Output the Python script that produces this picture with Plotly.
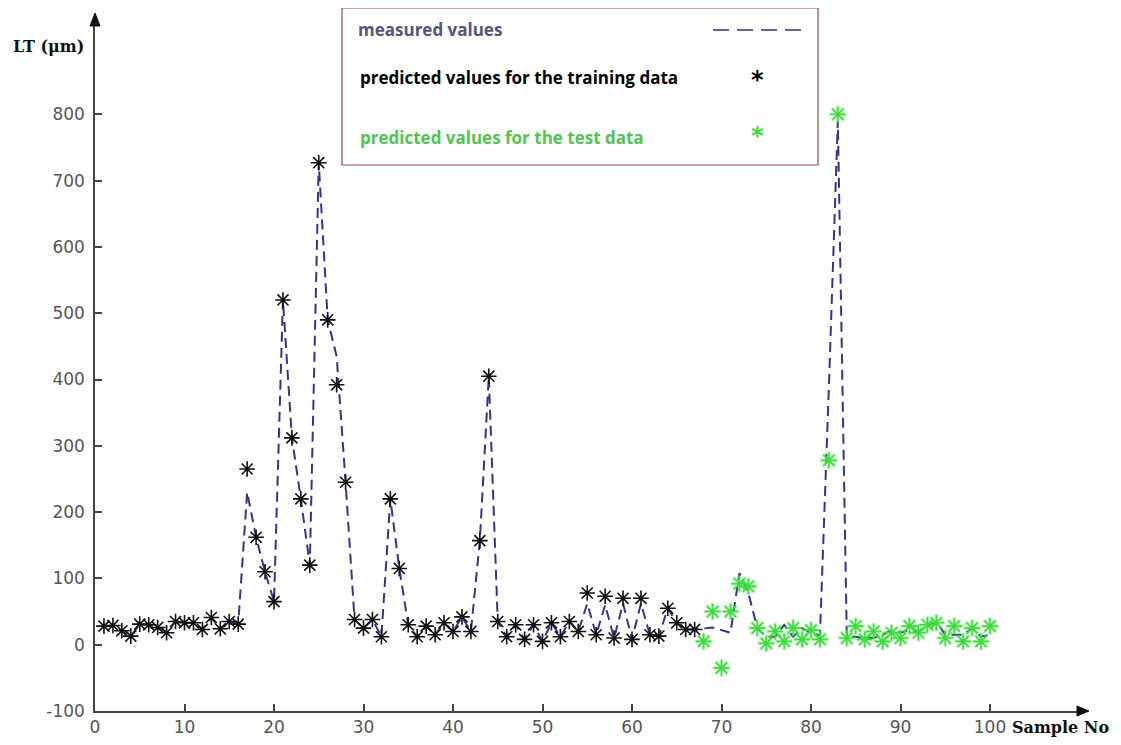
import plotly.graph_objects as go

# ---------------- data ----------------
samples = list(range(1, 101))

measured = [28, 29, 21, 13, 31, 30, 26, 18, 35, 33,
            33, 23, 41, 24, 35, 31, 230, 162, 110, 65,
            520, 312, 220, 120, 727, 490, 435, 245, 38, 25,
            38, 12, 220, 115, 30, 12, 28, 15, 33, 20,
            42, 20, 157, 405, 35, 12, 30, 8, 30, 5,
            33, 12, 35, 20, 62, 15, 60, 10, 62, 8,
            62, 15, 13, 55, 33, 23, 23, 25, 26, 22,
            18, 108, 78, 25, 12, 12, 30, 12, 25, 18,
            14, 390, 790, 12, 12, 10, 10, 15, 22, 18,
            22, 20, 28, 35, 15, 15, 15, 25, 12, 15]

train_samples = samples[:67]
train_pred = [28, 29, 21, 13, 31, 30, 26, 18, 35, 33,
              33, 23, 41, 24, 35, 31, 265, 162, 110, 65,
              520, 312, 220, 120, 727, 490, 392, 245, 38, 25,
              38, 12, 220, 115, 30, 12, 28, 15, 33, 20,
              42, 20, 157, 405, 35, 12, 30, 8, 30, 5,
              33, 12, 35, 20, 78, 15, 73, 10, 70, 8,
              70, 15, 13, 55, 33, 23, 23]

test_samples = samples[67:]
test_pred = [5, 50, -35, 50, 92, 88, 25, 2, 20, 5,
             25, 8, 22, 8, 278, 800, 10, 28, 8, 20,
             5, 18, 10, 28, 18, 30, 33, 10, 28, 5,
             25, 5, 28]

x_ticks = [0, 10, 20, 30, 40, 50, 60, 70, 80, 90, 100]
y_ticks = [-100, 0, 100, 200, 300, 400, 500, 600, 700, 800]

legend_labels = ["measured values",
                 "predicted values for the training data",
                 "predicted values for the test data"]

# ---------------- layout geometry (screen pixels) ----------------
OFF = 8                       # default page body margin
W, H = 1121 - 2 * OFF, 745 - 2 * OFF
L, R, T, B = 95, 1085, 18, 711
PW, PH = R - L, B - T
PX_PER_X = 8.95
PX_PER_Y = 0.663
x_range = [0, PW / PX_PER_X]
y_range = [-100, -100 + PH / PX_PER_Y]


def px(x):
    return (x - L) / PW


def py(y):
    return (B - y) / PH


LINE_COLOR = "#34348a"
GREEN = "#3ddc3d"
BLACK = "#111111"

fig = go.Figure()

fig.add_trace(go.Scatter(
    x=samples, y=measured, mode="lines",
    line=dict(color=LINE_COLOR, width=2, dash="10px,6px"),
    showlegend=False, hoverinfo="x+y"))

fig.add_trace(go.Scatter(
    x=train_samples, y=train_pred, mode="markers",
    marker=dict(symbol="asterisk-open", size=13, color=BLACK,
                line=dict(color=BLACK, width=1.6)),
    showlegend=False))

fig.add_trace(go.Scatter(
    x=test_samples, y=test_pred, mode="markers",
    marker=dict(symbol="asterisk-open", size=15, color="rgba(90,230,90,0.35)",
                line=dict(color="rgba(90,230,90,0.35)", width=3.5)),
    showlegend=False, hoverinfo="skip"))

fig.add_trace(go.Scatter(
    x=test_samples, y=test_pred, mode="markers",
    marker=dict(symbol="asterisk-open", size=13, color=GREEN,
                line=dict(color=GREEN, width=1.6)),
    showlegend=False))

shapes = []
# axis arrowheads
shapes.append(dict(type="path", xref="paper", yref="paper",
                   path=f"M {px(1089)} {py(B)} L {px(1077)} {py(B-5)} L {px(1077)} {py(B+5)} Z",
                   fillcolor=BLACK, line=dict(color=BLACK, width=1)))
shapes.append(dict(type="path", xref="paper", yref="paper",
                   path=f"M {px(L)} {py(13)} L {px(L-5)} {py(26)} L {px(L+5)} {py(26)} Z",
                   fillcolor=BLACK, line=dict(color=BLACK, width=1)))
# legend box
shapes.append(dict(type="rect", xref="paper", yref="paper",
                   x0=px(342), x1=px(818), y0=py(165), y1=py(8),
                   line=dict(color="#9a4646", width=1.2), fillcolor="rgba(255,255,255,0)"))
shapes.append(dict(type="line", xref="paper", yref="paper",
                   x0=px(713), x1=px(802), y0=py(30), y1=py(30),
                   line=dict(color=LINE_COLOR, width=1.5, dash="16px,8px")))

annotations = []
legend_font = "Open Sans"
annotations.append(dict(xref="paper", yref="paper", x=px(356), y=py(29),
                        xanchor="left", yanchor="middle", showarrow=False,
                        text=legend_labels[0],
                        font=dict(family=legend_font, size=17, color="#55557a", weight="bold")))
annotations.append(dict(xref="paper", yref="paper", x=px(358), y=py(78),
                        xanchor="left", yanchor="middle", showarrow=False,
                        text=legend_labels[1],
                        font=dict(family=legend_font, size=17, color="#000000", weight="bold")))
annotations.append(dict(xref="paper", yref="paper", x=px(358), y=py(137),
                        xanchor="left", yanchor="middle", showarrow=False,
                        text=legend_labels[2],
                        font=dict(family=legend_font, size=17, color="#52c452", weight="bold")))
annotations.append(dict(xref="paper", yref="paper", x=px(757), y=py(80),
                        xanchor="center", yanchor="middle", showarrow=False,
                        text="<b>*</b>", font=dict(family="DejaVu Sans", size=24, color="#000000")))
annotations.append(dict(xref="paper", yref="paper", x=px(757), y=py(136),
                        xanchor="center", yanchor="middle", showarrow=False,
                        text="<b>*</b>", font=dict(family="DejaVu Sans", size=24, color=GREEN)))
# axis titles
annotations.append(dict(xref="paper", yref="paper", x=px(48), y=py(46),
                        xanchor="center", yanchor="middle", showarrow=False,
                        text="LT (μm)",
                        font=dict(family="DejaVu Serif", size=16, color=BLACK, weight="bold")))
annotations.append(dict(xref="paper", yref="paper", x=px(1060), y=py(727),
                        xanchor="center", yanchor="middle", showarrow=False,
                        text="Sample No",
                        font=dict(family="DejaVu Serif", size=16, color=BLACK, weight="bold")))

fig.update_layout(
    width=W, height=H,
    margin=dict(l=L - OFF, r=W - (R - OFF), t=T - OFF, b=H - (B - OFF), pad=0,
                autoexpand=False),
    paper_bgcolor="white", plot_bgcolor="white",
    shapes=shapes, annotations=annotations,
    showlegend=False,
)

fig.update_xaxes(range=x_range, tickvals=x_ticks, ticktext=[str(v) for v in x_ticks],
                 showgrid=False, zeroline=False, showline=True, automargin=False,
                 linecolor="#444444", linewidth=1.5,
                 ticks="inside", ticklen=7, tickwidth=1.5, tickcolor="#444444",
                 tickfont=dict(family="DejaVu Sans", size=17, color="#555555"))
fig.update_yaxes(range=y_range, tickvals=y_ticks, ticktext=[str(v) for v in y_ticks],
                 showgrid=False, zeroline=False, showline=True, automargin=False,
                 linecolor="#444444", linewidth=1.5,
                 ticks="inside", ticklen=7, tickwidth=1.5, tickcolor="#444444",
                 ticklabelstandoff=5,
                 tickfont=dict(family="DejaVu Sans", size=17, color="#555555"))

fig.write_html("out.html")
